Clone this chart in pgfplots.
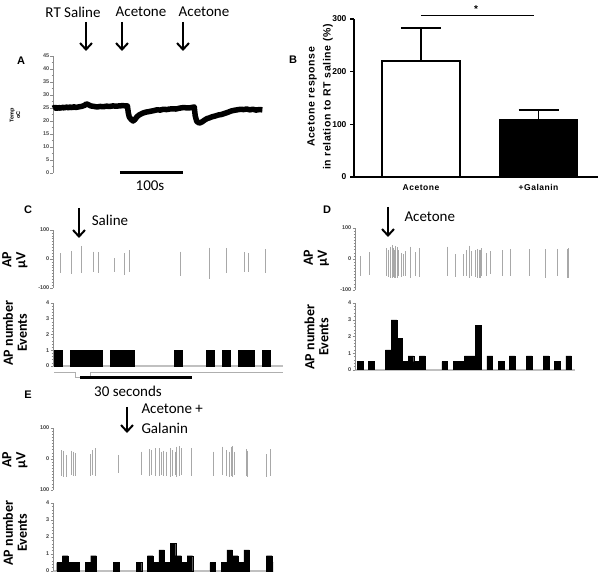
\documentclass[border=0pt]{standalone}
\usepackage{fontspec}
\setmainfont{Carlito}
\newfontfamily\lsans{Liberation Sans}
\newfontfamily\lsansw{Liberation Sans}[LetterSpace=6]
\usepackage{pgfplots}
\pgfplotsset{compat=1.18}
\usetikzlibrary{arrows.meta}
\definecolor{spk}{gray}{0.66}
\definecolor{axg}{gray}{0.55}
\pgfplotsset{
  base/.style={scale only axis, anchor=south west, tick align=outside,
    /pgf/number format/assume math mode=true},
  trace/.style={base, axis x line=none, axis y line*=left,
    y axis line style={axg, line width=0.7pt},
    ymin=-100, ymax=100, ytick={-100,0,100}, minor y tick num=9,
    major tick length=2.5pt, minor tick length=1.3pt,
    every tick/.style={axg, line width=0.5pt},
    yticklabel style={font=\lsans\bfseries\fontsize{5.5}{6}\selectfont, text=black!75, inner sep=1pt}},
  hist/.style={base, axis x line*=bottom, axis y line*=left,
    x axis line style={axg!55, line width=1.2pt}, y axis line style={axg, line width=0.7pt},
    xtick=\empty, ymin=0, ymax=4, ytick={0,1,2,3,4}, minor y tick num=4,
    major tick length=2.5pt, minor tick length=1.3pt,
    every tick/.style={axg, line width=0.5pt},
    yticklabel style={font=\lsans\bfseries\fontsize{5.5}{6}\selectfont, text=black!75, inner sep=1pt}},
  spikes/.style={spk, line width=0.7pt, unbounded coords=jump, mark=none},
  bars/.style={ybar, bar shift=0pt, fill=black, draw=black, line width=0.3pt},
}
\tikzset{
  ttl/.style={font=\fontsize{15}{17}\selectfont},
  ylab/.style={rotate=90, align=center, font=\fontsize{14}{14}\selectfont\bfseries},
  pl/.style={font=\lsans\bfseries\fontsize{11}{12}\selectfont},
  arr/.style={line width=2pt, -{Straight Barb[length=6.5pt, width=12pt]}}}
\begin{document}
\begin{tikzpicture}
\useasboundingbox (0pt,0pt) rectangle (600pt,579pt);

% ================= Panel A =================
\node[ttl] at (73pt,567pt) {RT Saline};
\node[ttl] at (141pt,567pt) {Acetone};
\node[ttl] at (204pt,567pt) {Acetone};
\draw[arr] (86pt,557pt) -- (86pt,528pt);
\draw[arr] (122pt,557pt) -- (122pt,528pt);
\draw[arr] (183pt,557pt) -- (183pt,528pt);
\node[pl] at (21pt,518pt) {A};
\node[rotate=90, align=center, font=\lsans\bfseries\fontsize{5.5}{6.5}\selectfont] at (15pt,464pt) {Temp\\oC};
\begin{axis}[base, at={(53pt,406pt)}, width=210pt, height=117pt,
  xmin=0, xmax=333, ymin=0, ymax=45, axis x line=none, axis y line*=left,
  y axis line style={axg, line width=0.7pt},
  ytick={0,5,...,45}, minor y tick num=1, major tick length=2.5pt, minor tick length=1.3pt,
  every tick/.style={axg, line width=0.5pt},
  yticklabel style={font=\lsans\bfseries\fontsize{5.5}{6}\selectfont, text=black!70, inner sep=1pt},
  clip=false]
\addplot[black, line width=5.5pt, line join=round] coordinates {
(0,24.9) (3,25.3) (6,24.8) (9,25.2) (12,24.9) (15,25.3) (18,25.0) (21,25.4) (24,25.1)
(27,25.4) (30,25.1) (33,25.5) (36,25.2) (40,25.4) (45,25.6) (50,26.0) (53,26.6) (56,26.3)
(60,25.8) (65,25.6) (70,25.4) (75,25.6) (80,25.5) (85,25.7) (90,25.6) (95,25.8) (100,25.7)
(105,25.8) (110,25.9) (118,25.8) (119.5,23.0) (121,21.5) (124,20.6) (127,20.0) (130,20.6)
(133,21.6) (137,22.4) (142,23.0) (147,23.4) (154,23.7) (160,24.0) (165,24.3) (170,24.2)
(175,24.5) (180,24.4) (185,24.6) (190,24.7) (195,24.6) (200,24.9) (205,25.1) (210,25.1)
(215,25.0) (220,25.2) (224,25.4) (225.5,22.0) (228,19.8) (232,19.2) (236,19.6) (240,20.3)
(244,20.9) (248,21.2) (252,21.6) (257,21.9) (262,22.3) (267,22.5) (272,22.9) (277,23.3)
(282,23.8) (287,24.1) (292,24.3) (297,24.5) (302,24.4) (307,24.6) (312,24.3) (317,24.5)
(322,24.2) (327,24.4) (332,24.3)};
\draw[line width=3pt] (axis cs:106,0) -- (axis cs:206,0);
\end{axis}
\node[ttl] at (150pt,393pt) {100s};

% ================= Panel B =================
\node[pl] at (293pt,519pt) {B};
\node[rotate=90, align=center, font=\lsansw\bfseries\fontsize{10.5}{16}\selectfont] at (320pt,482pt)
  {Acetone response\\in relation to RT saline (\%)};
\begin{axis}[base, at={(354pt,402pt)}, width=244pt, height=158pt,
  xmin=-0.57, xmax=1.506, ymin=0, ymax=300,
  axis x line*=bottom, axis y line*=left,
  axis line style={line width=1.5pt, black},
  ytick={0,100,200,300}, xtick={0,1}, xticklabels={Acetone,+Galanin},
  x tick style={draw=none}, y tick style={line width=1.5pt, black},
  major tick length=4pt,
  yticklabel style={font=\lsans\bfseries\fontsize{8.5}{10}\selectfont},
  xticklabel style={font=\lsansw\bfseries\fontsize{8.5}{10}\selectfont},
  clip=false]
\addplot[ybar, bar width=78pt, bar shift=0pt, fill=white, draw=black, line width=1.5pt,
  error bars/.cd, y dir=plus, y explicit,
  error bar style={line width=1.5pt, black},
  error mark options={rotate=90, mark size=20pt, line width=1.5pt, black}]
  coordinates {(0,220) +- (0,63)};
\addplot[ybar, bar width=78pt, bar shift=0pt, fill=black, draw=black, line width=1.5pt,
  error bars/.cd, y dir=plus, y explicit,
  error bar style={line width=1.5pt, black},
  error mark options={rotate=90, mark size=20pt, line width=1.5pt, black}]
  coordinates {(1,108) +- (0,19)};
\draw[line width=1.2pt] (axis cs:0,306) -- (axis cs:0.962,306);
\node[font=\lsans\bfseries\fontsize{10}{11}\selectfont] at (axis cs:0.468,319) {*};
\end{axis}

% ================= Panel C =================
\node[pl] at (28pt,369pt) {C};
\draw[arr] (79pt,371pt) -- (79pt,341pt);
\node[ttl] at (110pt,359pt) {Saline};
\node[ylab] at (15pt,319pt) {AP\\µV};
\node[ylab] at (15pt,246pt) {AP number\\Events};
\begin{axis}[trace, at={(53pt,291pt)}, width=230pt, height=58pt, xmin=53, xmax=283]
\addplot[spikes] coordinates {
(60.7,20) (60.7,-47) (60.7,nan)
(71,28) (71,-52) (71,nan)
(81.7,45) (81.7,-47) (81.7,nan)
(93.3,25) (93.3,-44) (93.3,nan)
(98,23) (98,-49) (98,nan)
(114.3,2) (114.3,-44) (114.3,nan)
(124.3,20) (124.3,-55) (124.3,nan)
(129,31) (129,-44) (129,nan)
(180.3,25) (180.3,-58) (180.3,nan)
(209,39) (209,-70) (209,nan)
(226.7,38) (226.7,-47) (226.7,nan)
(244.3,23) (244.3,-44) (244.3,nan)
(248.3,21) (248.3,-45) (248.3,nan)
(265.3,33) (265.3,-47)};
\end{axis}
\begin{axis}[hist, at={(53pt,213pt)}, width=230pt, height=63pt, xmin=53, xmax=283, clip=false]
\addplot[bars, bar width=8] coordinates {
(58,1) (74,1) (82,1) (90,1) (98,1) (114,1) (122,1) (130,1) (178,1)
(210,1) (226,1) (242,1) (250,1) (266,1)};
\draw[axg!70, line width=0.5pt] (axis cs:54,-0.38) -- (axis cs:75,-0.38) -- (axis cs:75,-0.7)
  -- (axis cs:90,-0.7) -- (axis cs:90,-0.38) -- (axis cs:283,-0.38);
\draw[line width=3pt] (axis cs:80,-0.7) -- (axis cs:192,-0.7);
\end{axis}
\node[ttl] at (128pt,188pt) {30 seconds};

% ================= Panel D =================
\node[pl] at (327pt,369pt) {D};
\draw[arr] (388pt,372pt) -- (388pt,342pt);
\node[ttl, anchor=west] at (401pt,362pt) {Acetone};
\node[ylab] at (316.5pt,321pt) {AP\\µV};
\node[ylab] at (316.5pt,242pt) {AP number\\Events};
\begin{axis}[trace, at={(355pt,289pt)}, width=220pt, height=62pt, xmin=355, xmax=575]
\addplot[spikes] coordinates {
(360,10) (360,-55) (360,nan)
(369.5,22) (369.5,-52) (369.5,nan)
(386,35) (386,-55) (386,nan)
(388,30) (388,-58) (388,nan)
(390.7,40) (390.7,-60) (390.7,nan)
(392,45) (392,-62) (392,nan)
(393.3,35) (393.3,-58) (393.3,nan)
(394.3,30) (394.3,-60) (394.3,nan)
(395.7,42) (395.7,-62) (395.7,nan)
(397,38) (397,-60) (397,nan)
(398.7,28) (398.7,-56) (398.7,nan)
(401,20) (401,-58) (401,nan)
(403.3,15) (403.3,-55) (403.3,nan)
(405.7,25) (405.7,-55) (405.7,nan)
(410,40) (410,-60) (410,nan)
(415,22) (415,-55) (415,nan)
(419,35) (419,-58) (419,nan)
(447,40) (447,-55) (447,nan)
(455.3,15) (455.3,-58) (455.3,nan)
(463.3,15) (463.3,-55) (463.3,nan)
(466.7,29) (466.7,-55) (466.7,nan)
(469.3,43) (469.3,-60) (469.3,nan)
(471,25) (471,-55) (471,nan)
(475,29) (475,-58) (475,nan)
(477.3,32) (477.3,-60) (477.3,nan)
(479,30) (479,-62) (479,nan)
(480,30) (480,-60) (480,nan)
(481.7,35) (481.7,-55) (481.7,nan)
(486.7,20) (486.7,-55) (486.7,nan)
(490,25) (490,-50) (490,nan)
(502.3,29) (502.3,-55) (502.3,nan)
(510.7,33) (510.7,-55) (510.7,nan)
(529,32) (529,-55) (529,nan)
(545,32) (545,-60) (545,nan)
(557.7,33) (557.7,-55) (557.7,nan)
(567.3,32) (567.3,-60) (567.3,nan)
(568.3,35) (568.3,-60)};
\end{axis}
\begin{axis}[hist, at={(355pt,209pt)}, width=220pt, height=67pt, xmin=355, xmax=575]
\addplot[bars, bar width=5.633] coordinates {
(360.15,0.5) (371.42,0.5) (388.3,1.2) (393.95,3.0) (399.6,1.9) (405.2,0.5)
(410.85,0.85) (416.5,0.5) (422.1,0.85) (444.65,0.5) (455.9,0.5) (461.55,0.5)
(467.2,0.85) (472.8,0.85) (478.45,2.65) (489.7,0.85) (501.0,0.5) (512.25,0.85)
(529.15,0.85) (546.05,0.85) (557.3,0.5) (568.6,0.85)};
\end{axis}

% ================= Panel E =================
\node[pl] at (28pt,184pt) {E};
\draw[arr] (127pt,172pt) -- (127pt,146pt);
\node[ttl, anchor=west] at (138pt,170pt) {Acetone +};
\node[ttl, anchor=west] at (138pt,151pt) {Galanin};
\node[ylab] at (15pt,119pt) {AP\\µV};
\node[ylab] at (15pt,46pt) {AP number\\Events};
\begin{axis}[trace, at={(53pt,89pt)}, width=220pt, height=62pt, xmin=53, xmax=273,
  yticklabels={100,0,100}]
\addplot[spikes] coordinates {
(61.7,29) (61.7,-55) (61.7,nan)
(63.3,27) (63.3,-57) (63.3,nan)
(66,13) (66,-57) (66,nan)
(71.7,27) (71.7,-52) (71.7,nan)
(73.3,24) (73.3,-55) (73.3,nan)
(75.7,20) (75.7,-55) (75.7,nan)
(90,16) (90,-55) (90,nan)
(92,29) (92,-52) (92,nan)
(95,34) (95,-55) (95,nan)
(118.3,13) (118.3,-45) (118.3,nan)
(141.7,24) (141.7,-52) (141.7,nan)
(149,31) (149,-55) (149,nan)
(151.7,29) (151.7,-52) (151.7,nan)
(155,34) (155,-55) (155,nan)
(159.3,34) (159.3,-55) (159.3,nan)
(161.7,24) (161.7,-52) (161.7,nan)
(163.3,27) (163.3,-55) (163.3,nan)
(166,24) (166,-55) (166,nan)
(170.7,34) (170.7,-57) (170.7,nan)
(172.7,29) (172.7,-55) (172.7,nan)
(175,24) (175,-52) (175,nan)
(176.7,40) (176.7,-57) (176.7,nan)
(179,42) (179,-55) (179,nan)
(181.7,34) (181.7,-52) (181.7,nan)
(191,36) (191,-55) (191,nan)
(213.3,24) (213.3,-55) (213.3,nan)
(222.7,40) (222.7,-52) (222.7,nan)
(226.7,29) (226.7,-55) (226.7,nan)
(229.3,24) (229.3,-57) (229.3,nan)
(231,40) (231,-55) (231,nan)
(232.3,42) (232.3,-57) (232.3,nan)
(234,24) (234,-52) (234,nan)
(246.7,31) (246.7,-55) (246.7,nan)
(247.7,27) (247.7,-57) (247.7,nan)
(266,16) (266,-57) (266,nan)
(270.7,32) (270.7,-55)};
\end{axis}
\begin{axis}[hist, at={(53pt,8pt)}, width=220pt, height=68pt, xmin=53, xmax=273]
\addplot[bars, bar width=5.67] coordinates {
(59.5,0.5) (65.17,0.9) (70.84,0.5) (76.5,0.5) (87.85,0.5) (93.5,0.9) (116.2,0.5)
(138.9,0.5) (150.2,0.9) (155.9,0.5) (161.6,1.25) (167.2,0.5) (172.9,1.63) (178.6,0.9)
(184.2,0.5) (189.9,0.9) (212.6,0.5) (223.9,0.5) (229.6,1.25) (235.3,0.9) (240.9,0.5)
(246.6,1.25) (269.3,0.9) (274.9,0.5)};
\end{axis}
\end{tikzpicture}
\end{document}
